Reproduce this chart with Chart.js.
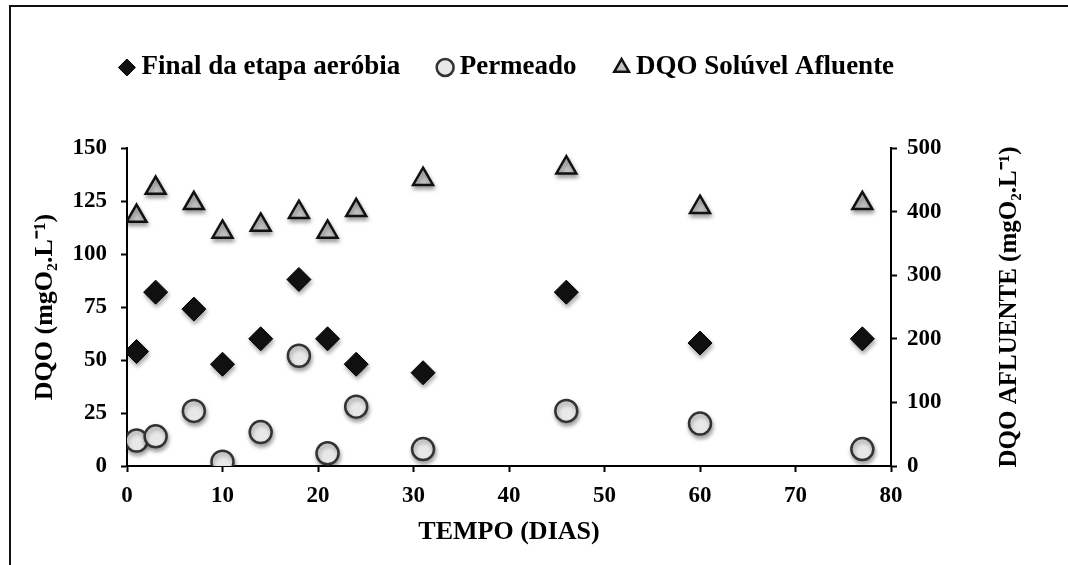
<!DOCTYPE html>
<html lang="pt">
<head>
    <meta charset="UTF-8">
    <title>DQO</title>
    <style>
        * { margin: 0; padding: 0; box-sizing: border-box; }
        body { background: #fff; width: 1068px; height: 565px; overflow: hidden; position: relative; }
        .frame {
            position: absolute; left: 9px; top: 5px; right: 0; bottom: 0;
            border-top: 2px solid #111; border-left: 2px solid #111;
            pointer-events: none;
        }
        canvas { position: absolute; left: 0; top: 0; }
    </style>
    <script src="https://cdn.jsdelivr.net/npm/chart.js"></script>
</head>
<body>
    <canvas id="dqoChart" width="1068" height="565"></canvas>
    <div class="frame"></div>
    <script>
        // tempo (dias)
        const dias = [1, 3, 7, 10, 14, 18, 21, 24, 31, 46, 60, 77];
        // mgO2/L
        const finalAerobia = [54, 82, 74, 48, 60, 88, 60, 48, 44, 82, 58, 60];
        const permeado = [12, 14, 26, 2, 16, 52, 6, 28, 8, 26, 20, 8];
        const dqoAfluente = [393, 437, 413, 368, 379, 399, 368, 402, 451, 469, 407, 413];

        const xTicks = [0, 10, 20, 30, 40, 50, 60, 70, 80];
        const yTicks = [0, 25, 50, 75, 100, 125, 150];
        const y2Ticks = [0, 100, 200, 300, 400, 500];

        const serif = 'Liberation Serif, "Times New Roman", serif';
        const pts = (xs, ys) => xs.map((d, i) => ({ x: d, y: ys[i] }));

        const shadow = {
            id: 'shadow',
            beforeDatasetsDraw(chart) {
                const c = chart.ctx;
                c.save();
                c.shadowColor = 'rgba(0,0,0,0.35)';
                c.shadowBlur = 4;
                c.shadowOffsetX = 1;
                c.shadowOffsetY = 3;
            },
            afterDatasetsDraw(chart) { chart.ctx.restore(); }
        };

        // extra room under the legend
        const legendHeight = {
            id: 'legendHeight',
            beforeInit(chart) {
                const fit = chart.legend.fit;
                chart.legend.fit = function () { fit.call(this); this.height += 57; };
            }
        };

        // right title reads bottom-to-top like the left one
        const rightTitle = {
            id: 'rightTitle',
            afterDraw(chart) {
                const c = chart.ctx, s = chart.scales.y2;
                c.save();
                c.translate(1010, (s.top + s.bottom) / 2);
                c.rotate(-Math.PI / 2);
                c.font = 'bold 25px ' + serif;
                c.fillStyle = '#000';
                c.textAlign = 'center';
                c.textBaseline = 'middle';
                c.fillText('DQO AFLUENTE (mgO\u2082.L\u207B\u00B9)', 0, 0);
                c.restore();
            }
        };

        const axisGrid = { drawOnChartArea: false, drawTicks: true, tickLength: 6, tickColor: '#000', tickWidth: 2 };
        const axisBorder = { display: true, color: '#000', width: 2 };
        const tickFont = { family: serif, size: 23, weight: 'bold' };
        const titleFont = { family: serif, size: 26, weight: 'bold' };

        new Chart(document.getElementById('dqoChart'), {
            type: 'scatter',
            data: {
                datasets: [
                    {
                        label: 'Final da etapa aeróbia',
                        data: pts(dias, finalAerobia),
                        pointStyle: 'rectRot', pointRadius: 12, pointHoverRadius: 12,
                        backgroundColor: '#111', borderColor: '#000', borderWidth: 1,
                        yAxisID: 'y'
                    },
                    {
                        label: 'Permeado',
                        data: pts(dias, permeado),
                        pointStyle: 'circle', pointRadius: 11, pointHoverRadius: 11,
                        backgroundColor: '#e8e8e8', borderColor: '#333', borderWidth: 2.5,
                        yAxisID: 'y'
                    },
                    {
                        label: 'DQO Solúvel Afluente',
                        data: pts(dias, dqoAfluente),
                        pointStyle: 'triangle', pointRadius: 11.5, pointHoverRadius: 11.5,
                        backgroundColor: '#c4c4c4', borderColor: '#111', borderWidth: 2.5,
                        yAxisID: 'y2'
                    }
                ]
            },
            options: {
                responsive: false,
                animation: false,
                // right padding shifts the legend centre over the plot
                layout: { padding: { left: 0, right: 48, top: 10, bottom: 10 } },
                plugins: {
                    tooltip: { enabled: false },
                    legend: {
                        position: 'top',
                        labels: {
                            usePointStyle: true, boxWidth: 2, boxHeight: 12, padding: 44,
                            color: '#000', font: { family: serif, size: 27, weight: 'bold' }
                        }
                    }
                },
                scales: {
                    x: {
                        type: 'linear', position: 'bottom', min: 0, max: 80,
                        afterBuildTicks: s => { s.ticks = xTicks.map(v => ({ value: v })); },
                        afterFit: s => { s.height = 89; },
                        grid: axisGrid, border: axisBorder,
                        ticks: { color: '#000', font: tickFont, padding: 10 },
                        title: { display: true, text: 'TEMPO (DIAS)', color: '#000', font: titleFont, padding: { bottom: 7 } }
                    },
                    y: {
                        position: 'left', min: 0, max: 150,
                        afterBuildTicks: s => { s.ticks = yTicks.map(v => ({ value: v })); },
                        afterFit: s => { s.width = 127; },
                        grid: axisGrid, border: axisBorder,
                        ticks: { color: '#000', font: tickFont, padding: 14 },
                        title: { display: true, text: 'DQO (mgO\u2082.L\u207B\u00B9)', color: '#000', font: titleFont, padding: { top: 30 } }
                    },
                    y2: {
                        position: 'right', min: 0, max: 500,
                        afterBuildTicks: s => { s.ticks = y2Ticks.map(v => ({ value: v })); },
                        afterFit: s => { s.width = 129; },
                        grid: axisGrid, border: axisBorder,
                        ticks: { color: '#000', font: tickFont, padding: 10 }
                    }
                }
            },
            plugins: [legendHeight, shadow, rightTitle]
        });
    </script>
</body>
</html>
